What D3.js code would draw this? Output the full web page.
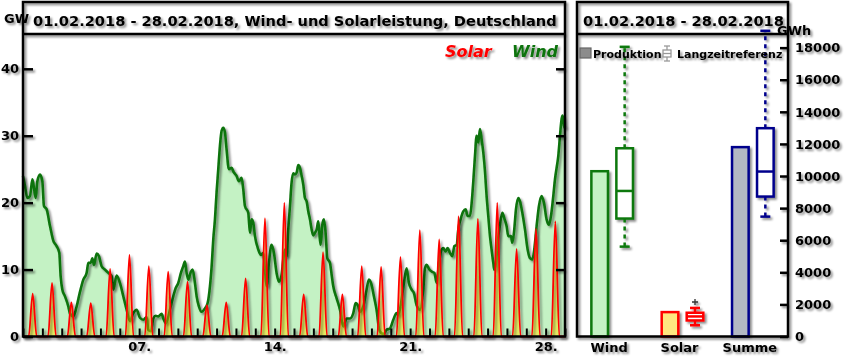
<!DOCTYPE html>
<html><head><meta charset="utf-8">
<script src="https://cdn.jsdelivr.net/npm/d3@7"></script>
<style>body{margin:0;background:#fff}svg{display:block;font-family:"DejaVu Sans",sans-serif}</style>
</head><body><svg id="c" width="845" height="357"></svg>
<script>
// ---------- data ----------
const titleLeft = "01.02.2018 - 28.02.2018, Wind- und Solarleistung, Deutschland";
const titleRight = "01.02.2018 - 28.02.2018";
// wind power [hours since 01.02.2018 00:00, GW]
const wind = [[0,24],[2.5,22.5],[5.4,20.7],[8.7,21],[11.6,23.5],[13.6,22.2],[15.7,20.7],[17.8,23.2],[21.1,24.2],[24,23.2],[26,19.5],[29.3,19],[33.5,16.5],[37.6,14.3],[41.7,13.5],[45,12.5],[46.7,9],[48.8,7],[52.1,6],[56.2,4.5],[58.3,3.4],[62.4,3],[66.5,4.5],[70.7,6.7],[74.8,8.5],[78.9,9.5],[81,11],[83.9,11],[86,11.7],[88,10.7],[91.3,12.4],[94.2,12],[97.5,10.5],[101.6,10],[105.8,9.5],[109.9,9],[112,7],[116.1,9.1],[120.2,8],[124.4,6],[128.5,4],[132.6,2.3],[136.8,3.5],[140.9,4],[145,2.8],[149.2,2.5],[153.3,2.9],[155.4,1],[158.7,0.8],[161.6,2.7],[164.5,3.1],[167.7,3],[171.9,3.4],[174,2.7],[177.3,2],[182.2,4],[186.3,6],[189.2,7.2],[192.5,8],[195.8,9.5],[198.7,10.5],[200.8,11.2],[202.9,9.5],[204.9,8.5],[208.2,9.7],[210.3,10],[213.2,8],[215.3,6],[218.1,4.5],[221.4,3.7],[225.6,4.2],[228.9,5],[231.8,7.5],[233.9,10.5],[235.9,14.5],[238,17.5],[240,21.5],[242.1,25],[244.2,28.5],[246.2,30.7],[248.3,31.2],[250.4,30.5],[252.4,28],[255.3,25],[258.6,25.2],[261.5,24.5],[264.8,24],[267.7,23.2],[271,23.7],[273.1,22],[275.2,19.5],[279.3,18.5],[281.4,15.5],[283.4,17.5],[285.5,17],[287.6,15],[291.7,13],[295,12.2],[297.9,12.5],[300,10],[302,7.5],[304.9,11],[308.2,13.7],[311.1,12.5],[314.4,9.5],[317.3,8.2],[320.6,9.2],[322.7,11.5],[324.8,13],[326.8,12],[328.9,16],[331,19.5],[333,23],[335,24.4],[337.2,24.2],[339.3,24.5],[341.3,25.6],[343.4,25.2],[345.5,24],[347.5,22.7],[349.6,20.7],[351.7,20.2],[353.7,18.7],[355.8,17.5],[357.9,16],[359.9,15.1],[362,15.5],[364.1,16],[366.1,17.2],[367.4,15.5],[369,13.7],[371.1,16.7],[373.1,17.5],[375.2,15.5],[377.3,11.7],[380.6,11],[382.7,9.2],[384.7,7.5],[388.9,5.7],[393,4],[397.1,1.5],[401.2,2.7],[405.4,2.7],[409.5,3.5],[412.4,5],[415.7,4.5],[417.8,3.7],[421.9,4.5],[426,7],[428.9,8.5],[432.2,7.7],[435.1,6],[438.4,4],[441.7,1],[444.6,0.5],[446.7,0.3],[450.8,1],[455,1.2],[459.1,2.5],[463.2,3.5],[465.3,3.2],[469.4,5.5],[472.3,8],[475.6,10.2],[478.5,8],[481.8,7],[484.7,6.5],[488,4.7],[492.2,4],[496.3,7],[498.4,10.2],[500.5,10.7],[503.4,10.1],[506.7,9.7],[510,9.5],[512.9,8],[515.8,11],[518.2,12.7],[521.1,13.2],[524,12.7],[526.5,13.2],[529.4,12.5],[532.3,12],[534.8,13.5],[537.7,13.7],[539.7,16],[543,17.7],[545.9,18.7],[548.8,19],[551.3,18],[554.2,18],[556.3,20],[558.3,23.2],[560.4,27],[562.4,30],[564.5,29],[566.6,31],[568.6,29.5],[570.7,27.5],[572.8,24.7],[574.8,21],[576.9,18],[579,15],[581,13],[583.1,11],[584.3,10],[586.4,11],[588.5,14],[591.4,16.7],[594.3,18.5],[596.7,17.7],[599.6,16.5],[601.7,15],[605,15],[606.7,14],[609.1,16],[611.2,19],[614.1,20.7],[616.2,20.2],[619.1,18.5],[622.4,16],[625.7,13],[628.6,11.7],[631.5,11.5],[633.9,13],[636.8,16.5],[639.7,19.5],[643,21],[645.9,20],[649.2,17.5],[652.1,16.7],[654.6,18],[657.5,21],[659.6,23.5],[661.6,25.2],[663.7,27],[665.8,30],[667.8,32.5],[669.1,33],[671.1,31.2],[672,31.5]];
// daily solar peak (GW) for 01.02 .. 28.02, produced between sunrise and sunset hours
const solarPeak = [6.4,8.0,5.1,5.0,10.1,12.2,10.5,9.7,8.2,4.7,5.1,8.7,17.7,20.0,6.3,12.6,6.3,10.5,10.4,11.9,15.9,14.5,18.0,17.6,20.0,13.1,16.1,17.2];
const solarHours = [7, 12, 17]; // start, peak, end of production
const gwTicks = [0,10,20,30,40];
const dayLabels = {7:"07.",14:"14.",21:"21.",28:"28."};

const categories = ["Wind","Solar","Summe"];
const production = [10300,1520,11800];          // GWh
const refMin     = [5600,700,7470];
const refQ1      = [7350,1000,8720];
const refMedian  = [9070,1250,10280];
const refQ3      = [11730,1480,12980];
const refMax     = [18050,1780,19050];
const refOutliers= [[],[2150],[]];
const gwhTicks = [0,2000,4000,6000,8000,10000,12000,14000,16000,18000];

// ---------- styles ----------
const cStroke = ["#0a780a","#ff0000","#00008c"];
const cFill   = ["#c4f2c4","#ffe680","#b3b8c3"];
const windLine = "#0a730a", windFill = "#c4f2c4", solarLine = "#ff0000";

const svg = d3.select("#c");
svg.append("rect").attr("width",845).attr("height",357).attr("fill","#fff");
const defs = svg.append("defs");
const f = defs.append("filter").attr("id","sh").attr("x","-10%").attr("y","-10%").attr("width","130%").attr("height","130%");
f.append("feDropShadow").attr("dx",2).attr("dy",2).attr("stdDeviation",1.3).attr("flood-color","#000").attr("flood-opacity",0.45);

const T0 = Date.UTC(2018,1,1);
const hr = h => new Date(T0 + h*3600e3);

// ---------- left panel ----------
const L = {x0:23, x1:565, yTop:34, yBot:336.5};
const x = d3.scaleUtc().domain([hr(0), hr(672)]).range([L.x0, L.x1]);
const y = d3.scaleLinear().domain([0,45.2]).range([L.yBot, L.yTop]);

// wind area
svg.append("path").datum(wind)
  .attr("d", d3.area().x(d=>x(hr(d[0]))).y0(y(0)).y1(d=>y(d[1])).curve(d3.curveMonotoneX))
  .attr("fill", windFill);
svg.append("path").datum(wind)
  .attr("d", d3.line().x(d=>x(hr(d[0]))).y(d=>y(d[1])).curve(d3.curveMonotoneX))
  .attr("fill","none").attr("stroke",windLine).attr("stroke-width",2.6).attr("stroke-linejoin","round")
  .attr("filter","url(#sh)");

// solar
const solarPts = [[0,0]];
solarPeak.forEach((p,i)=>{
  solarPts.push([i*24+solarHours[0],0],[i*24+solarHours[1],p],[i*24+solarHours[2],0]);
});
solarPts.push([672,0]);
svg.append("path").datum(solarPts)
  .attr("d", d3.area().x(d=>x(hr(d[0]))).y0(y(0)).y1(d=>y(d[1])).curve(d3.curveMonotoneX))
  .attr("fill","#ffe000").attr("fill-opacity",0.5);
svg.append("path").datum(solarPts)
  .attr("d", d3.line().x(d=>x(hr(d[0]))).y(d=>y(d[1])).curve(d3.curveMonotoneX))
  .attr("fill","none").attr("stroke",solarLine).attr("stroke-width",1.8)
  .attr("filter","url(#sh)");

const frameG = svg.append("g").attr("filter","url(#sh)");
// axes
function styleAxis(g){
  g.select(".domain").remove();
  g.selectAll("line").attr("stroke","#000").attr("stroke-width",2.5);
  g.selectAll("text").attr("fill","#000").attr("font-size","13px").attr("font-weight","bold")
    .attr("font-family","DejaVu Sans");
}
frameG.append("g").attr("transform",`translate(${L.x0},0)`)
  .call(d3.axisLeft(y).tickValues(gwTicks).tickSize(-10).tickPadding(4).tickFormat(d3.format("d")))
  .call(styleAxis);
frameG.append("g").attr("transform",`translate(${L.x1},0)`)
  .call(d3.axisRight(y).tickValues(gwTicks.slice(1)).tickSize(-9).tickFormat(""))
  .call(styleAxis);
const days = d3.range(0,29).map(d=>hr(d*24));
frameG.append("g").attr("transform",`translate(0,${L.yBot})`)
  .call(d3.axisBottom(x).tickValues(days).tickSize(-8).tickPadding(5)
    .tickFormat(d=>dayLabels[d.getUTCDate()] && d.getUTCMonth()===1 ? dayLabels[d.getUTCDate()] : ""))
  .call(styleAxis)
  .call(g=>g.selectAll("line").attr("stroke-width",2));

// left frame
frameG.append("rect").attr("x",L.x0).attr("y",2).attr("width",L.x1-L.x0).attr("height",L.yBot-2)
  .attr("fill","none").attr("stroke","#000").attr("stroke-width",2.5);
frameG.append("line").attr("x1",L.x0).attr("x2",L.x1).attr("y1",L.yTop).attr("y2",L.yTop)
  .attr("stroke","#000").attr("stroke-width",2.5);
frameG.append("text").attr("x",33).attr("y",26).text(titleLeft)
  .attr("font-size","14.6px").attr("font-weight","bold").attr("fill","#000");
frameG.append("text").attr("x",4).attr("y",22.5).text("GW")
  .attr("font-size","13px").attr("font-weight","bold").attr("fill","#000");
frameG.append("text").attr("x",445).attr("y",57).text("Solar")
  .attr("font-size","16px").attr("font-weight","bold").attr("font-style","italic").attr("fill",solarLine);
frameG.append("text").attr("x",512).attr("y",57).text("Wind")
  .attr("font-size","16px").attr("font-weight","bold").attr("font-style","italic").attr("fill",windLine);

// ---------- right panel ----------
const R = {x0:577, x1:788, yTop:34, yBot:336.5};
const xr = d3.scalePoint().domain(categories).range([R.x0,R.x1]).padding(0.5);
const yr = d3.scaleLinear().domain([0,18850]).range([R.yBot,R.yTop]);
const bw = 16.6, off = 12.5;

const rg = svg.append("g").attr("filter","url(#sh)");
// bars
rg.selectAll(".bar").data(categories).join("rect")
  .attr("x",c=>xr(c)-off-bw/2).attr("width",bw)
  .attr("y",(c,i)=>yr(production[i])).attr("height",(c,i)=>yr(0)-yr(production[i]))
  .attr("fill",(c,i)=>cFill[i]).attr("stroke",(c,i)=>cStroke[i]).attr("stroke-width",2.5);
// boxes
categories.forEach((c,i)=>{
  const cx = xr(c)+off;
  const g = rg.append("g").attr("stroke",cStroke[i]).attr("stroke-width",2.5);
  g.append("line").attr("x1",cx).attr("x2",cx).attr("y1",yr(refQ3[i])).attr("y2",yr(refMax[i])).attr("stroke-dasharray","4,4");
  g.append("line").attr("x1",cx).attr("x2",cx).attr("y1",yr(refQ1[i])).attr("y2",yr(refMin[i])).attr("stroke-dasharray","4,4");
  g.append("line").attr("x1",cx-5).attr("x2",cx+5).attr("y1",yr(refMax[i])).attr("y2",yr(refMax[i]));
  g.append("line").attr("x1",cx-5).attr("x2",cx+5).attr("y1",yr(refMin[i])).attr("y2",yr(refMin[i]));
  g.append("rect").attr("x",cx-bw/2).attr("width",bw).attr("y",yr(refQ3[i])).attr("height",yr(refQ1[i])-yr(refQ3[i]))
    .attr("fill","#fff");
  g.append("line").attr("x1",cx-bw/2).attr("x2",cx+bw/2).attr("y1",yr(refMedian[i])).attr("y2",yr(refMedian[i]));
  refOutliers[i].forEach(o=>{
    rg.append("path").attr("d",`M${cx-3},${yr(o)}h6M${cx},${yr(o)-3}v6`).attr("stroke","#333").attr("stroke-width",1.3);
  });
});

rg.append("g").attr("transform",`translate(${R.x1},0)`)
  .call(d3.axisRight(yr).tickValues(gwhTicks).tickSize(-8).tickPadding(7).tickFormat(d3.format("d")))
  .call(styleAxis);
rg.append("rect").attr("x",R.x0).attr("y",2).attr("width",R.x1-R.x0).attr("height",R.yBot-2)
  .attr("fill","none").attr("stroke","#000").attr("stroke-width",2.5);
rg.append("line").attr("x1",R.x0).attr("x2",R.x1).attr("y1",R.yTop).attr("y2",R.yTop)
  .attr("stroke","#000").attr("stroke-width",2.5);
rg.append("text").attr("x",583).attr("y",26).text(titleRight)
  .attr("font-size","14.6px").attr("font-weight","bold").attr("fill","#000");
rg.append("text").attr("x",777).attr("y",35).text("GWh")
  .attr("font-size","13px").attr("font-weight","bold").attr("fill","#000");
rg.selectAll(".cat").data(categories).join("text")
  .attr("x",c=>xr(c)-3).attr("y",352).attr("text-anchor","middle").text(c=>c)
  .attr("font-size","13px").attr("font-weight","bold").attr("fill","#000");

// legend
const lg = svg.append("g");
lg.append("rect").attr("x",580).attr("y",48).attr("width",11).attr("height",10)
  .attr("fill","#8c8c8c").attr("stroke","#666").attr("stroke-width",1.2);
lg.append("text").attr("x",593).attr("y",58).text("Produktion")
  .attr("font-size","11px").attr("font-weight","bold").attr("fill","#000").attr("filter","url(#sh)");
const ic = lg.append("g").attr("stroke","#999").attr("stroke-width",1.3).attr("fill","#fff");
ic.append("line").attr("x1",667).attr("x2",667).attr("y1",46).attr("y2",61);
ic.append("line").attr("x1",664).attr("x2",670).attr("y1",46).attr("y2",46);
ic.append("line").attr("x1",664).attr("x2",670).attr("y1",61).attr("y2",61);
ic.append("rect").attr("x",663).attr("y",50).attr("width",8).attr("height",7);
ic.append("line").attr("x1",663).attr("x2",671).attr("y1",53.5).attr("y2",53.5);
lg.append("text").attr("x",677).attr("y",58).text("Langzeitreferenz")
  .attr("font-size","11px").attr("font-weight","bold").attr("fill","#000").attr("filter","url(#sh)");
</script></body></html>
